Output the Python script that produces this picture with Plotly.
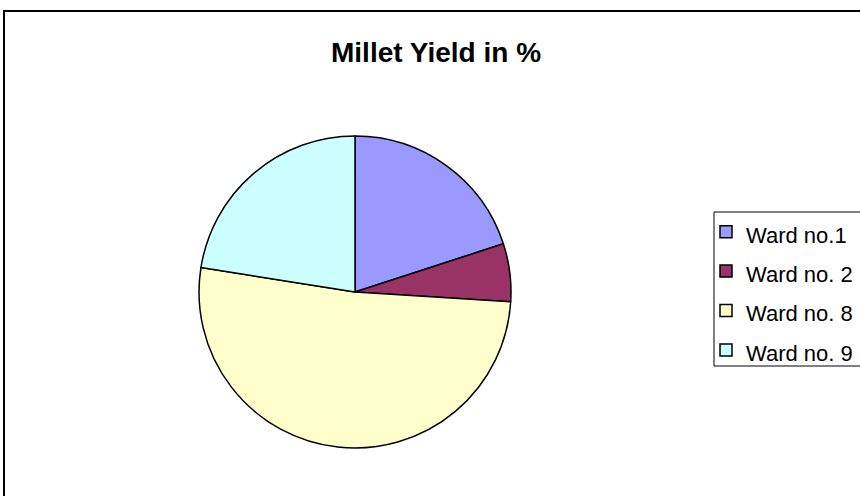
import plotly.graph_objects as go

# Millet yield share by ward
wards = ["Ward no.1", "Ward no. 2", "Ward no. 8", "Ward no. 9"]
yield_pct = [20.0, 6.0, 51.5, 22.5]
slice_colors = ["#9999FF", "#993366", "#FFFFCC", "#CCFFFF"]

W, H = 860, 496

# Legend rows are spaced by the legend font size; the entry text itself is smaller.
legend_labels = [f"<span style='font-size:22px'>{w}</span>" for w in wards]

fig = go.Figure(
    go.Pie(
        labels=legend_labels,
        values=yield_pct,
        sort=False,
        direction="clockwise",
        rotation=0,
        textinfo="none",
        hoverinfo="label+percent",
        marker=dict(colors=slice_colors, line=dict(color="black", width=1.5)),
        domain=dict(x=[0.2163, 0.6093], y=[0.0968, 0.7258]),
    )
)

fig.update_layout(
    width=W,
    height=H,
    margin=dict(l=0, r=0, t=0, b=0),
    paper_bgcolor="white",
    plot_bgcolor="white",
    font=dict(family="Liberation Sans, Arial, sans-serif", color="black"),
    showlegend=True,
    legend=dict(
        x=706 / W,
        xanchor="left",
        y=1 - 207 / H,
        yanchor="top",
        bgcolor="rgba(0,0,0,0)",
        borderwidth=0,
        font=dict(size=28, color="black"),
        itemclick=False,
        valign="middle",
    ),
    annotations=[
        dict(
            text="<b>Millet Yield in %</b>",
            x=436 / W,
            y=1 - 53 / H,
            xref="paper",
            yref="paper",
            xanchor="center",
            yanchor="middle",
            showarrow=False,
            font=dict(size=28, color="black"),
        )
    ],
    shapes=[
        # outer chart frame
        dict(
            type="rect",
            xref="paper",
            yref="paper",
            x0=4 / W,
            x1=1.02,
            y0=-0.02,
            y1=1 - 11 / H,
            line=dict(color="black", width=2),
            fillcolor="rgba(0,0,0,0)",
            layer="below",
        ),
        # legend box
        dict(
            type="rect",
            xref="paper",
            yref="paper",
            x0=714 / W,
            x1=1.02,
            y0=1 - 366 / H,
            y1=1 - 212 / H,
            line=dict(color="black", width=1),
            fillcolor="white",
            layer="below",
        ),
    ],
)

fig.write_html("out.html")
